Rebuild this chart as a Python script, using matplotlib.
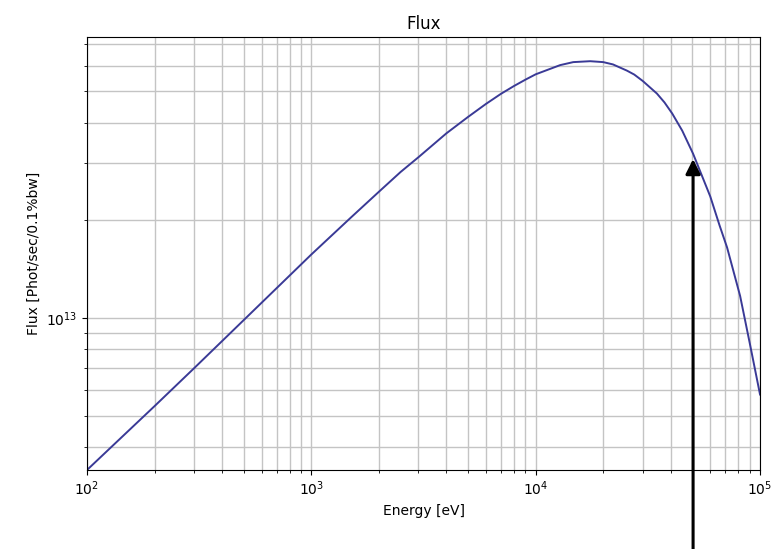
import numpy as np
import matplotlib
matplotlib.use("Agg")
import matplotlib.pyplot as plt
import matplotlib.ticker as mtick

# values
energy = [100, 200, 300, 500, 1000, 1500, 2000, 2500, 3000, 4000, 5000, 6000,
          7000, 8000, 9000, 10000, 12850, 14700, 17500, 20000, 22100, 25500,
          27500, 30000, 34700, 37500, 40600, 45000, 50300, 60000, 66000, 71300,
          81500, 90000, 100000]
flux = [3.40e12, 5.35e12, 7.0e12, 9.86e12, 1.57e13, 2.04e13, 2.45e13, 2.82e13,
        3.13e13, 3.71e13, 4.17e13, 4.57e13, 4.91e13, 5.19e13, 5.43e13, 5.64e13,
        6.02e13, 6.15e13, 6.19e13, 6.15e13, 6.05e13, 5.79e13, 5.63e13, 5.38e13,
        4.92e13, 4.62e13, 4.27e13, 3.78e13, 3.21e13, 2.37e13, 1.93e13, 1.65e13,
        1.17e13, 8.36e12, 5.81e12]

arrow_energy = 5.03e4
arrow_flux = 3.09e13

fig = plt.figure(figsize=(7.72, 5.49), dpi=100)
ax = fig.add_axes([0.1127, 0.1439, 0.8718, 0.7887])

ax.plot(energy, flux, color='#3a3a96', lw=1.4)
ax.set_xscale('log')
ax.set_yscale('log')
ax.set_xlim(1e2, 1e5)
ax.set_ylim(3.40e12, 7.35e13)

ax.yaxis.set_minor_formatter(mtick.NullFormatter())
ax.grid(True, which='both', color='#c4c4c4', lw=1)
ax.set_axisbelow(True)

ax.set_title("Flux")
ax.set_xlabel("Energy [eV]")
ax.set_ylabel("Flux [Phot/sec/0.1%bw]")

ax.annotate("", xy=(arrow_energy, arrow_flux), xycoords='data',
            xytext=(arrow_energy, -0.05), textcoords=('data', 'figure fraction'),
            arrowprops=dict(arrowstyle='-|>', lw=2.2, color='black', mutation_scale=22,
                            shrinkA=0, shrinkB=0),
            annotation_clip=False)

fig.savefig("out.png", dpi=100)
